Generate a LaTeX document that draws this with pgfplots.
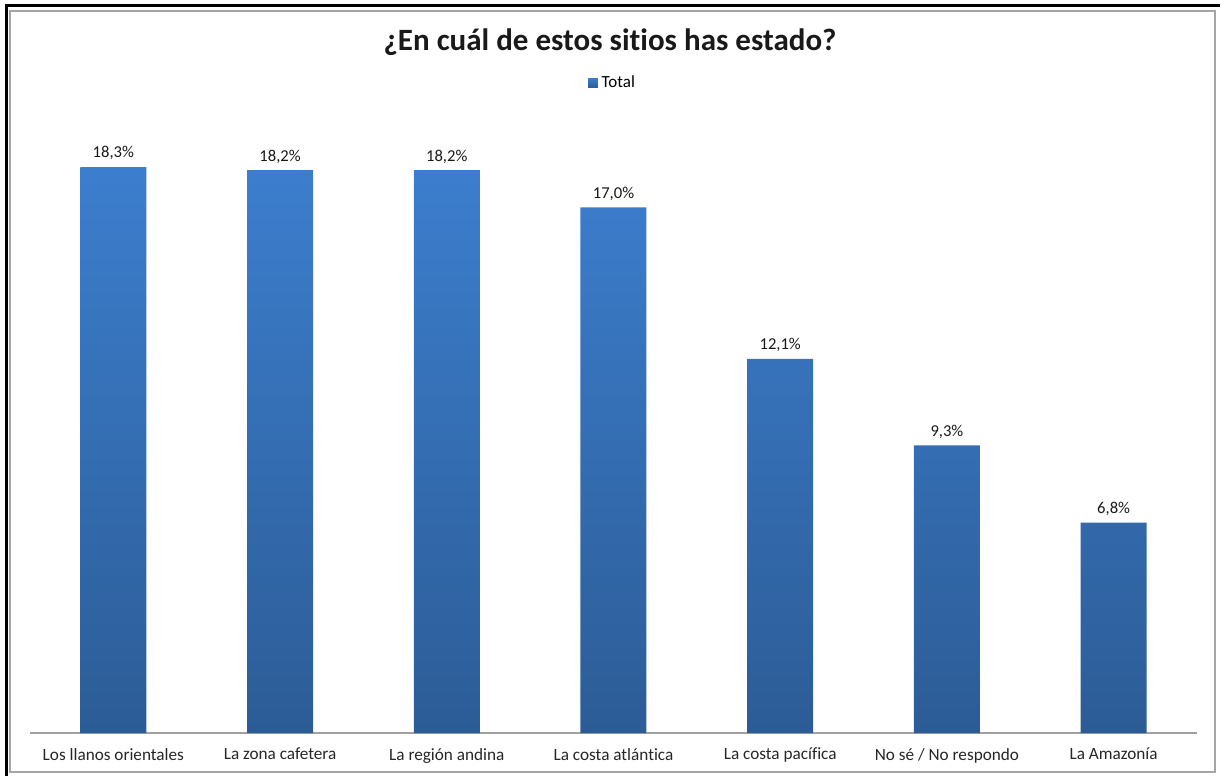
\documentclass[border=0pt]{standalone}
\usepackage{pgfplots}
\pgfplotsset{compat=1.18}
\usepackage{fontspec}
\setmainfont{Carlito}[Ligatures={NoCommon}]
\definecolor{bartop}{RGB}{60,126,206}
\definecolor{barbot}{RGB}{44,92,150}
\definecolor{barleg}{RGB}{55,115,190}
\definecolor{framegray}{RGB}{165,165,165}
\definecolor{axisgray}{RGB}{160,160,160}
\begin{document}
\begin{tikzpicture}
\useasboundingbox (0,0) rectangle (610pt,388pt);
\draw[framegray, line width=0.9pt] (5pt,2pt) rectangle (607.5pt,382.5pt);
\draw[black, line width=1.6pt] (3.2pt,0pt) -- (3.2pt,385.3pt) -- (610pt,385.3pt);
\node[font=\fontsize{15.5}{18}\selectfont\bfseries, text=black!90] at (305pt,367pt) {¿En cuál de estos sitios has estado?};
\begin{axis}[
  at={(15pt,21.5pt)}, anchor=south west,
  scale only axis, width=583.5pt, height=316.5pt,
  xmin=-0.5, xmax=6.5, ymin=0, ymax=20.47,
  axis x line=bottom, axis y line=none,
  axis line style={axisgray, line width=0.6pt, -},
  xtick=data, major tick length=0pt,
  xticklabels={Los llanos orientales, La zona cafetera, La región andina, La costa atlántica, La costa pacífica, No sé / No respondo, La Amazonía},
  xticklabel style={font=\fontsize{8.6}{10}\selectfont, text=black!85, yshift=-4pt},
  point meta=explicit symbolic,
  nodes near coords={\pgfplotspointmeta\%},
  nodes near coords style={font=\fontsize{8.3}{10}\selectfont, text=black!90, anchor=south, yshift=0pt},
  legend style={at={(0.5,1.027)}, anchor=center, draw=none, fill=none, font=\fontsize{8.5}{10}\selectfont, inner sep=1pt},
  legend image code/.code={\fill[barleg] (0pt,-2.4pt) rectangle (4.8pt,2.4pt);},
  clip=false,
]
\addplot[ybar, bar width=33pt, draw=none, top color=bartop, bottom color=barbot] coordinates {
  (0,18.3) [18,3]
  (1,18.2) [18,2]
  (2,18.2) [18,2]
  (3,17.0) [17,0]
  (4,12.1) [12,1]
  (5,9.3) [9,3]
  (6,6.8) [6,8]
};
\addlegendentry{Total}
\end{axis}
\end{tikzpicture}
\end{document}
